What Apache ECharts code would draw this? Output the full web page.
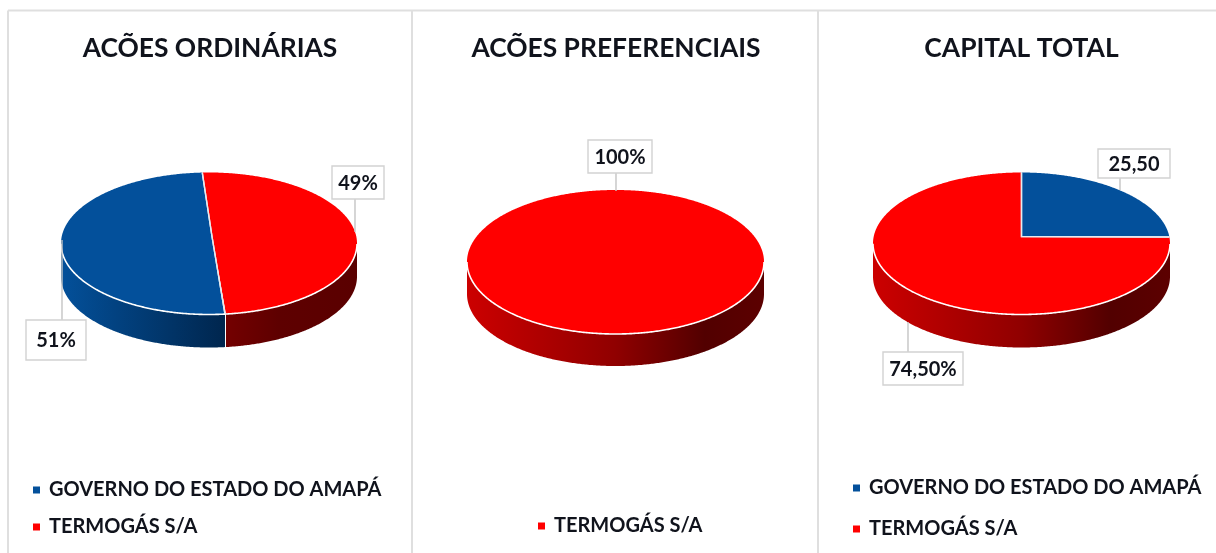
<!DOCTYPE html>
<html>
<head>
<meta charset="utf-8">
<style>
  html, body { margin: 0; padding: 0; background: #fff; }
  #chart { width: 1216px; height: 553px; }
</style>
<script src="https://cdn.jsdelivr.net/npm/echarts@6/dist/echarts.min.js"></script>
</head>
<body>
<div id="chart"></div>
<script>
const GOVERNO = 'GOVERNO DO ESTADO DO AMAPÁ';
const TERMOGAS = 'TERMOGÁS S/A';

const panelTitles = ['ACÕES ORDINÁRIAS', 'ACÕES PREFERENCIAIS', 'CAPITAL TOTAL'];
const ordinariasOwners = [GOVERNO, TERMOGAS];
const ordinariasValues = [51, 49];
const ordinariasLabels = ['51%', '49%'];
const preferenciaisOwners = [TERMOGAS];
const preferenciaisValues = [100];
const preferenciaisLabels = ['100%'];
const capitalOwners = [GOVERNO, TERMOGAS];
const capitalValues = [25.5, 74.5];
const capitalLabels = ['25,50', '74,50%'];

const COLORS = { [GOVERNO]: '#03509b', [TERMOGAS]: '#ff0000' };
const FONT = 'Lato, Carlito, Calibri, sans-serif';

const RED_WALL = [[0, '#cc0000'], [0.5, '#900000'], [0.8, '#520000'], [1, '#5c0000']];

// pie geometry, callout boxes and wall shading per panel
// tilt = perspective shift of the slice angles in degrees
const panels = [
    {
        owners: ordinariasOwners, values: ordinariasValues, labels: ordinariasLabels,
        cx: 209, cy: 243.5, rx: 148, ry: 71, depth: 33, start: 173.8, tilt: 0, apexDx: 3,
        walls: [
            [[0, '#03509a'], [1, '#00264e']],
            [[0, '#740000'], [0.4, '#5e0000'], [1, '#5a0000']],
        ],
        boxes: [
            { x: 26, y: 320, w: 60, h: 40, lx: 62, ly: 240 },
            { x: 332, y: 166, w: 52, h: 33, lx: 355, ly: 232 },
        ],
        legend: { left: 33, top: 480, itemGap: 17 },
    },
    {
        owners: preferenciaisOwners, values: preferenciaisValues, labels: preferenciaisLabels,
        cx: 615.5, cy: 262, rx: 148.5, ry: 72, depth: 32, start: 0, tilt: 7, apexDx: 0,
        walls: [RED_WALL],
        boxes: [{ x: 588, y: 140, w: 64, h: 33, lx: 616, ly: 191 }],
        legend: { left: 538, top: 516, itemGap: 17 },
    },
    {
        owners: capitalOwners, values: capitalValues, labels: capitalLabels,
        cx: 1021.5, cy: 243.5, rx: 148.5, ry: 71, depth: 33, start: 0, tilt: 7, apexDx: 0,
        walls: [[[0, '#000'], [1, '#000']], RED_WALL],
        boxes: [
            { x: 1098, y: 149, w: 72, h: 29, lx: 1120, ly: 190 },
            { x: 883, y: 352, w: 80, h: 33, lx: 908, ly: 322 },
        ],
        legend: { left: 853, top: 478, itemGap: 21 },
    },
];

function toPhi(p, theta) {
    return (theta - p.tilt * Math.sin(theta * Math.PI / 180)) * Math.PI / 180;
}

function rimPoint(p, theta, drop) {
    const phi = toPhi(p, theta);
    return [p.cx + p.rx * Math.sin(phi), p.cy - p.ry * Math.cos(phi) + (drop || 0)];
}

function sliceRenderer(p, index) {
    return function (params, api) {
        const value = api.value(0);
        const before = p.values.slice(0, index).reduce((s, v) => s + v, 0);
        const total = p.values.reduce((s, v) => s + v, 0);
        const a0 = p.start + before / total * 360;
        const a1 = a0 + value / total * 360;
        const color = COLORS[p.owners[index]];
        const apex = [p.cx + p.apexDx, p.cy - 7];
        const full = value === total;

        const rim = [];
        const front = [];
        for (let t = a0; t <= a1 + 0.001; t += 0.5) {
            rim.push(rimPoint(p, t));
            if (Math.cos(toPhi(p, t)) < 0) front.push(t);
        }

        const children = [];
        if (front.length > 1) {
            const top = front.map(t => rimPoint(p, t));
            const low = front.map(t => rimPoint(p, t, p.depth)).reverse();
            children.push({
                type: 'polygon', z2: 1,
                shape: { points: top.concat(low) },
                style: {
                    fill: {
                        type: 'linear', x: 0, y: 0, x2: 1, y2: 0,
                        colorStops: p.walls[index].map(s => ({ offset: s[0], color: s[1] })),
                    },
                },
            });
            children.push({
                type: 'polyline', z2: 4,
                shape: { points: top },
                style: { fill: null, stroke: '#ffffff', lineWidth: 1.6 },
            });
        }
        children.push({
            type: 'polygon', z2: 2,
            shape: { points: full ? rim : [apex].concat(rim) },
            style: { fill: color },
        });
        if (!full) {
            children.push({
                type: 'polyline', z2: 3,
                shape: { points: [rimPoint(p, a0), apex, rimPoint(p, a1)] },
                style: { fill: null, stroke: '#e6e9ee', lineWidth: 1.4 },
            });
        }

        const box = p.boxes[index];
        const boxEdge = box.ly > box.y ? box.y + box.h : box.y;
        children.push({
            type: 'line', z2: 5,
            shape: { x1: box.lx, y1: boxEdge, x2: box.lx, y2: box.ly },
            style: { stroke: '#c4c4c4', lineWidth: 1.4 },
        });
        children.push({
            type: 'rect', z2: 6,
            shape: { x: box.x, y: box.y, width: box.w, height: box.h },
            style: { fill: '#fff', stroke: '#d2d2d2', lineWidth: 1.4 },
        });
        children.push({
            type: 'text', z2: 7,
            style: {
                x: box.x + box.w / 2, y: box.y + box.h / 2 + 1,
                text: p.labels[index], align: 'center', verticalAlign: 'middle',
                fill: '#10131c', font: 'bold 20px ' + FONT,
            },
        });
        return { type: 'group', children };
    };
}

const series = [];
panels.forEach(p => {
    p.values.forEach((v, i) => {
        series.push({
            type: 'custom',
            name: p.owners[i],
            coordinateSystem: 'none',
            itemStyle: { color: COLORS[p.owners[i]] },
            data: [[v]],
            renderItem: sliceRenderer(p, i),
            animation: false,
            silent: true,
        });
    });
});

const borderLines = [
    [8, 10.5, 1216, 10.5],
    [8, 10.5, 8, 553],
    [412, 10.5, 412, 553],
    [818, 10.5, 818, 553],
].map(l => ({
    type: 'line',
    shape: { x1: l[0], y1: l[1], x2: l[2], y2: l[3] },
    style: { stroke: '#dfdfdf', lineWidth: 2 },
}));

const chart = echarts.init(document.getElementById('chart'), null, { renderer: 'canvas' });
chart.setOption({
    animation: false,
    backgroundColor: '#fff',
    title: panelTitles.map((text, i) => ({
        text,
        left: [210, 616, 1021.5][i],
        top: 35,
        textAlign: 'center',
        padding: 0,
        textStyle: { color: '#10131c', fontSize: 26.4, fontWeight: 'bold', fontFamily: FONT },
    })),
    legend: panels.map(p => ({
        orient: 'vertical',
        left: p.legend.left,
        top: p.legend.top,
        padding: 0,
        itemGap: p.legend.itemGap,
        itemWidth: 7,
        itemHeight: 7,
        icon: 'rect',
        selectedMode: false,
        data: p.owners,
        textStyle: { color: '#10131c', fontSize: 20, fontWeight: 'bold', fontFamily: FONT, padding: [0, 0, 0, 4] },
    })),
    graphic: borderLines,
    series,
});
</script>
</body>
</html>
